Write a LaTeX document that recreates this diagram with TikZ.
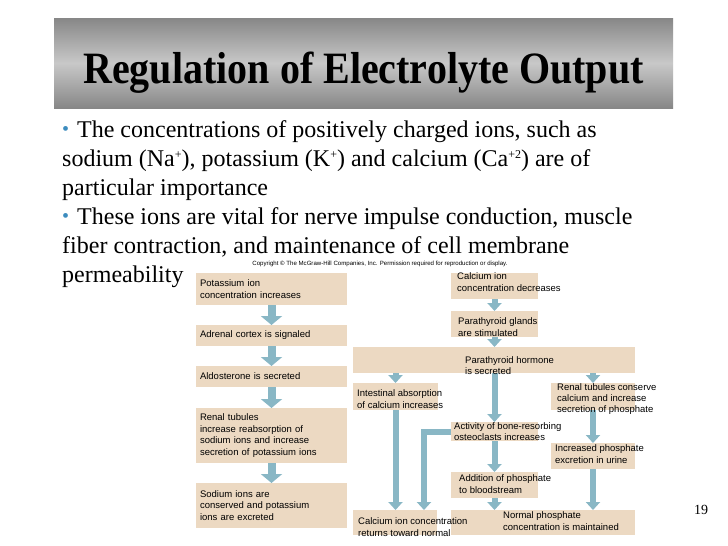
\documentclass[tikz,border=0pt]{standalone}
\usepackage{fontspec}
\setmainfont{Liberation Serif}
\newfontfamily\flowfont{Liberation Sans}
\usetikzlibrary{arrows.meta}

\definecolor{boxtan}{RGB}{236,217,194}
\definecolor{flowblue}{RGB}{137,183,197}
\definecolor{bulletblue}{RGB}{60,140,190}
\definecolor{bardark}{RGB}{135,135,135}
\definecolor{barlight}{RGB}{200,200,200}

\tikzset{
  stepbox/.style={fill=boxtan, inner sep=0pt, outer sep=0pt, anchor=north west},
  leftbox/.style={stepbox, minimum width=151pt, text width=143pt, inner xsep=4pt,
    align=left, font=\flowfont\fontsize{9.5}{11.7}\selectfont},
  steptext/.style={font=\flowfont\fontsize{9.5}{11.3}\selectfont, align=left, anchor=west, inner sep=0pt},
  bigflow/.style={draw=flowblue, line width=8pt, -{Triangle[length=9pt, width=21pt]}},
  smallflow/.style={draw=flowblue, line width=6pt, -{Triangle[length=8pt, width=14pt]}},
  bodyline/.style={font=\fontsize{24}{28.8}\selectfont, anchor=base west, inner sep=0pt},
}
\newcommand{\slidebullet}{\makebox[15pt][l]{\color{bulletblue}\fontsize{20}{20}\selectfont\raisebox{2pt}{\textbullet}}}
\newcommand{\ionsup}[1]{\raisebox{8pt}{\fontsize{12}{12}\selectfont #1}}

\begin{document}
\begin{tikzpicture}[x=1pt, y=-1pt]
  \useasboundingbox (0,0) rectangle (728,546);
  \fill[white] (0,0) rectangle (728,546);

  % title bar
  \node[top color=bardark, bottom color=bardark, middle color=barlight,
    minimum width=619pt, minimum height=90pt, inner sep=0pt] (bar) at (363.5,63) {};
  \node[anchor=base, inner sep=0pt, font=\bfseries\fontsize{40}{40}\selectfont] (title) at (363.5,83)
    {\scalebox{1}[1.12]{Regulation of Electrolyte Output}};

  % bullet text
  \node[bodyline] (l1) at (62,137) {\slidebullet The concentrations of positively charged ions, such as};
  \node[bodyline] (l2) at (62,166) {sodium (Na\ionsup{+}), potassium (K\ionsup{+}) and calcium (Ca\ionsup{+2}) are of};
  \node[bodyline] (l3) at (62,195) {particular importance};
  \node[bodyline] (l4) at (62,224) {\slidebullet These ions are vital for nerve impulse conduction, muscle};
  \node[bodyline] (l5) at (62,253) {fiber contraction, and maintenance of cell membrane};
  \node[bodyline] (l6) at (62,282) {permeability};

  \node[font=\flowfont\fontsize{6.1}{7}\selectfont, inner sep=0pt] (copy) at (380,264)
    {Copyright © The McGraw-Hill Companies, Inc. Permission required for reproduction or display.};

  % potassium column
  \node[leftbox, minimum height=32pt] (k1) at (196,273) {Potassium ion\\concentration increases};
  \node[leftbox, minimum height=21pt] (k2) at (196,325) {Adrenal cortex is signaled};
  \node[leftbox, minimum height=21pt] (k3) at (196,366) {Aldosterone is secreted};
  \node[leftbox, minimum height=55pt] (k4) at (196,408) {Renal tubules\\increase reabsorption of\\sodium ions and increase\\secretion of potassium ions};
  \node[leftbox, minimum height=45pt] (k5) at (196,483) {Sodium ions are\\conserved and potassium\\ions are excreted};

  \draw[bigflow] (k1.south) -- (k2.north);
  \draw[bigflow] (k2.south) -- (k3.north);
  \draw[bigflow] (k3.south) -- (k4.north);
  \draw[bigflow] (k4.south) -- (k5.north);

  % calcium column
  \node[stepbox, minimum width=87pt, minimum height=26pt] (c1) at (451,273) {};
  \node[stepbox, minimum width=87pt, minimum height=26pt] (c2) at (451,311) {};
  \node[stepbox, minimum width=282pt, minimum height=26pt] (c3) at (353,347) {};
  \node[stepbox, minimum width=85pt, minimum height=27pt] (c4) at (353,383) {};
  \node[stepbox, minimum width=84pt, minimum height=27pt] (c5) at (551,383) {};
  \node[stepbox, minimum width=87pt, minimum height=19pt] (c6) at (451,422) {};
  \node[stepbox, minimum width=84pt, minimum height=26pt] (c8) at (551,443) {};
  \node[stepbox, minimum width=87pt, minimum height=26pt] (c7) at (451,472) {};
  \node[stepbox, minimum width=84pt, minimum height=25pt] (c9) at (353,510) {};
  \node[stepbox, minimum width=184pt, minimum height=25pt] (c10) at (451,510) {};

  \draw[smallflow] (c1.south) -- (c2.north);
  \draw[smallflow] (c2.south) -- (c3.north -| c2.south);
  \draw[smallflow] (c4.north |- c3.south) -- (c4.north);
  \draw[smallflow] (c5.north |- c3.south) -- (c5.north);
  \draw[smallflow] (c6.north |- c3.south) -- (c6.north);
  \draw[smallflow] (c4.south) -- (c4.south |- c9.north);
  \draw[smallflow] (c6.west) -| ([xshift=29pt]c9.north);
  \draw[smallflow] (c6.south) -- (c7.north);
  \draw[smallflow] (c7.south) -- (c7.south |- c10.north);
  \draw[smallflow] (c5.south) -- (c8.north);
  \draw[smallflow] (c8.south) -- (c8.south |- c10.north);

  \node[steptext] (c1t) at (457,282) {Calcium ion\\concentration decreases};
  \node[steptext] (c2t) at (458,327) {Parathyroid glands\\are stimulated};
  \node[steptext] (c3t) at (465,365.5) {Parathyroid hormone\\is secreted};
  \node[steptext] (c4t) at (357,399) {Intestinal absorption\\of calcium increases};
  \node[steptext] (c5t) at (557,399) {Renal tubules conserve\\calcium and increase\\secretion of phosphate};
  \node[steptext] (c6t) at (454,431.5) {Activity of bone-resorbing\\osteoclasts increases};
  \node[steptext] (c7t) at (459,484) {Addition of phosphate\\to bloodstream};
  \node[steptext] (c8t) at (555,454) {Increased phosphate\\excretion in urine};
  \node[steptext] (c9t) at (358,527) {Calcium ion concentration\\returns toward normal};
  \node[steptext] (c10t) at (503,521) {Normal phosphate\\concentration is maintained};

  \node[font=\fontsize{14}{14}\selectfont, inner sep=0pt] (num) at (701,510) {19};
\end{tikzpicture}
\end{document}
